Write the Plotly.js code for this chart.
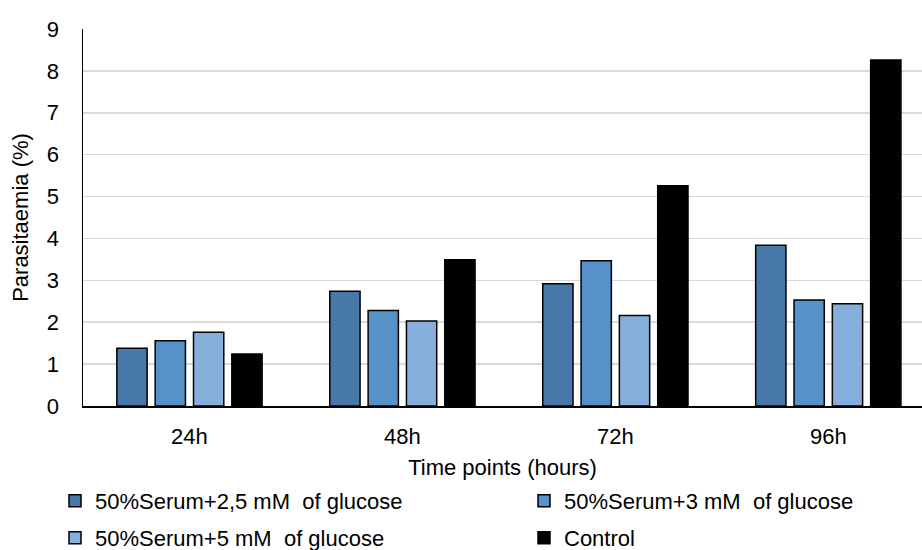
<!DOCTYPE html>
<html>
<head>
<meta charset="utf-8">
<script src="https://cdn.plot.ly/plotly-3.0.1.min.js"></script>
<style>
  html, body { margin: 0; padding: 0; background: #ffffff; }
  #chart { width: 922px; height: 550px; }
</style>
</head>
<body>
<div id="chart"></div>
<script>
// Time points on the x axis
const timePoints = ['24h', '48h', '72h', '96h'];

// Parasitaemia (%) per culture condition
const serum25 = [1.38, 2.74, 2.92, 3.84];
const serum3  = [1.56, 2.28, 3.47, 2.53];
const serum5  = [1.76, 2.03, 2.16, 2.44];
const control = [1.24, 3.49, 5.26, 8.26];

const seriesNames = [
  '50%Serum+2,5 mM\u00a0 of glucose',
  '50%Serum+3 mM\u00a0 of glucose',
  '50%Serum+5 mM\u00a0 of glucose',
  'Control'
];

const FONT = 'Liberation Sans, Arial, sans-serif';
const FS = 22;

function barTrace(name, values, color, legendId, legendWidth) {
  return {
    type: 'bar',
    name: name,
    x: timePoints,
    y: values,
    marker: { color: color, line: { color: '#000000', width: 1.5 } },
    legend: legendId,
    legendwidth: legendWidth,
    hoverinfo: 'x+y+name'
  };
}

// two legend rows, each with a wide first column
const data = [
  barTrace(seriesNames[0], serum25, '#4878a7', 'legend', 424),
  barTrace(seriesNames[1], serum3,  '#5692c8', 'legend', 312),
  barTrace(seriesNames[2], serum5,  '#87afdc', 'legend2', 424),
  barTrace(seriesNames[3], control, '#000000', 'legend2', 312)
];

const legendCommon = {
  orientation: 'h',
  xref: 'container', yref: 'container',
  xanchor: 'left', yanchor: 'middle',
  x: 55 / 922,
  bgcolor: 'rgba(0,0,0,0)',
  borderwidth: 0,
  font: { family: FONT, size: FS, color: '#000000' },
  itemclick: false, itemdoubleclick: false
};

const layout = {
  width: 922, height: 550,
  paper_bgcolor: '#ffffff', plot_bgcolor: '#ffffff',
  font: { family: FONT, size: FS, color: '#000000' },
  margin: { l: 83, r: 0, t: 29, b: 144, autoexpand: false },
  barmode: 'group',
  bargap: 0.28,
  bargroupgap: 0.21,
  showlegend: true,
  xaxis: {
    type: 'category',
    range: [-0.5, 3.44],
    showgrid: false,
    zeroline: false,
    showline: true, linecolor: '#000000', linewidth: 1.5,
    ticks: '',
    ticklabelstandoff: 10,
    tickfont: { family: FONT, size: FS, color: '#000000' },
    title: { text: 'Time points (hours)', font: { family: FONT, size: FS, color: '#000000' }, standoff: 27 },
    automargin: false,
    fixedrange: true
  },
  yaxis: {
    range: [0, 9],
    dtick: 1,
    tick0: 0,
    showgrid: true, gridcolor: '#d9d9d9', gridwidth: 1.5,
    zeroline: false,
    showline: true, linecolor: '#000000', linewidth: 1.5,
    ticks: '',
    ticklabelstandoff: 18,
    tickfont: { family: FONT, size: FS, color: '#000000' },
    title: { text: 'Parasitaemia (%)', font: { family: FONT, size: FS, color: '#000000' }, standoff: 12 },
    automargin: false,
    fixedrange: true
  },
  legend: Object.assign({}, legendCommon, { y: 1 - 501 / 550 }),
  legend2: Object.assign({}, legendCommon, { y: 1 - 538 / 550 })
};

Plotly.newPlot('chart', data, layout, { displayModeBar: false, staticPlot: true });
</script>
</body>
</html>
